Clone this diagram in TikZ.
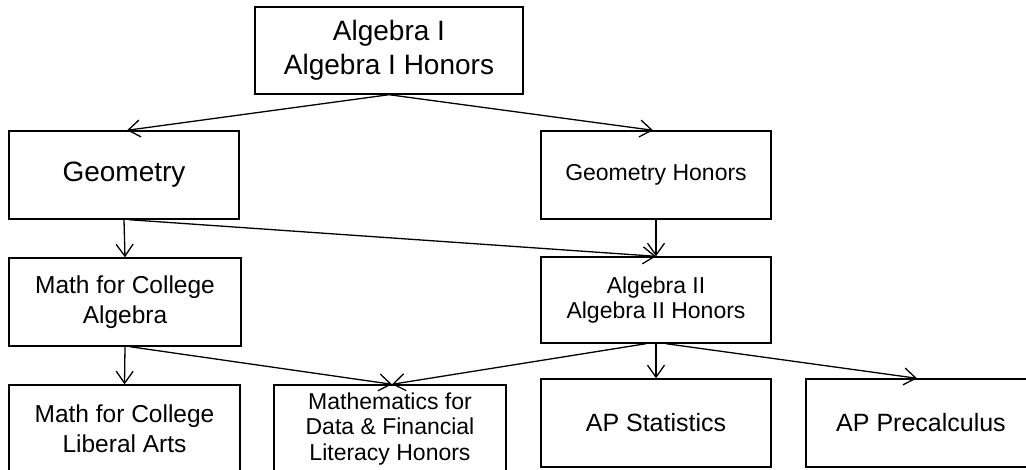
\documentclass[tikz,border=0pt]{standalone}
\usepackage{fontspec}
\setmainfont{Liberation Sans}
\usepackage{tikz}
\usetikzlibrary{arrows.meta}

\tikzset{
  course/.style={draw, line width=1.4pt, align=center, inner sep=0pt,
    minimum width=230pt, minimum height=88pt},
  big/.style={font=\fontsize{28}{34}\selectfont},
  mid/.style={font=\fontsize{24.5}{30}\selectfont},
  small/.style={font=\fontsize{23}{25.5}\selectfont},
  prereq/.style={line width=1.3pt, -{Straight Barb[length=12pt,width=17pt,line width=1.3pt]}}
}

\begin{document}
\begin{tikzpicture}[x=1pt, y=-1pt]
      % Page frame
      \clip (0,0) rectangle (1026,469);
      \fill[white] (0,0) rectangle (1026,469);
      % Courses
      \node[course, big, minimum width=268pt, minimum height=87pt] (alg1) at (389,50.5)
      {Algebra I\\Algebra I Honors};
      \node[course, big] (geo) at (124,175) {Geometry};
      \node[course, small] (geoh) at (656,175) {Geometry Honors};
      \node[course, mid, minimum width=232pt] (mca) at (125,302)
      {Math for College\\Algebra};
      \node[course, small, minimum height=86pt] (alg2) at (656,300)
      {Algebra II\\Algebra II Honors};
      \node[course, mid, minimum width=231pt] (mla) at (124.5,429)
      {Math for College\\Liberal Arts};
      \node[course, small, minimum width=232pt] (mdf) at (390,429)
      {Mathematics for\\Data \& Financial\\Literacy Honors};
      \node[course, mid, font=\fontsize{25}{30}\selectfont] (aps) at (656,423) {AP Statistics};
      \node[course, mid, font=\fontsize{25}{30}\selectfont] (app) at (921,423) {AP Precalculus};
      % Prerequisites
      \draw[prereq] (alg1.south) -- ([xshift=3pt]geo.north);
      \draw[prereq] (alg1.south) -- ([xshift=-3pt]geoh.north);
      \draw[prereq] (geo.south) -- (mca.north);
      \draw[prereq] ([xshift=5pt]geo.south) -- (alg2.north);
      \draw[prereq] (geoh.south) -- (alg2.north);
      \draw[prereq] (mca.south) -- (mla.north);
      \draw[prereq] ([xshift=5pt]mca.south) -- ([xshift=2pt]mdf.north);
      \draw[prereq] ([xshift=-10pt]alg2.south) -- ([xshift=2pt]mdf.north);
      \draw[prereq] (alg2.south) -- (aps.north);
      \draw[prereq] ([xshift=10pt]alg2.south) -- ([xshift=-4pt]app.north);
    \end{tikzpicture}
\end{document}
